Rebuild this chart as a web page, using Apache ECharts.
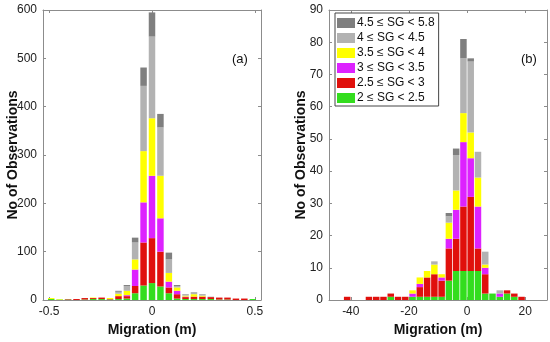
<!DOCTYPE html>
<html><head><meta charset="utf-8">
<script src="https://cdn.jsdelivr.net/npm/echarts@6/dist/echarts.min.js"></script>
<style>html,body{margin:0;padding:0;background:#fff}#c{width:550px;height:342px}</style>
</head><body><div id="c"></div>
<script>
// Panel (a): bin centers (m) and per-class counts
const binsA = [-0.49,-0.449,-0.408,-0.367,-0.327,-0.286,-0.245,-0.204,-0.163,-0.122,-0.082,-0.041,0,0.041,0.082,0.122,0.163,0.204,0.245,0.286,0.327,0.367,0.408,0.449,0.49];
const greenA   = [2,1,1,0,1,2,2,1,2,3,14,30,35,28,14,3,2,2,2,2,1,1,0,0,2];
const redA     = [0,0,1,2,3,2,3,1,6,5,15,89,93,72,12,9,4,5,5,4,4,4,3,3,0];
const magentaA = [0,0,0,0,0,0,0,0,0,2,34,83,129,69,12,7,1,0,0,0,0,0,0,0,0];
const yellowA  = [2,1,0,0,0,1,0,2,5,9,21,106,119,88,18,7,2,5,2,0,0,0,0,0,0];
const lgrayA   = [0,0,0,0,0,0,0,0,4,10,35,135,169,100,28,3,2,3,2,1,0,0,0,0,0];
const dgrayA   = [0,0,0,0,0,0,0,0,2,2,10,38,50,28,14,2,1,1,1,0,0,0,0,0,0];

// Panel (b): bin centers (m) and per-class counts
const binsB = [-41.25,-38.75,-36.25,-33.75,-31.25,-28.75,-26.25,-23.75,-21.25,-18.75,-16.25,-13.75,-11.25,-8.75,-6.25,-3.75,-1.25,1.25,3.75,6.25,8.75,11.25,13.75,16.25,18.75];
const greenB   = [0,0,0,0,0,0,1,0,0,1,1,1,1,1,6,9,9,9,9,2,2,1,2,1,0];
const redB     = [1,0,0,1,1,1,1,1,1,0,3,6,7,5,10,10,20,23,7,6,0,0,1,1,1];
const magentaB = [0,0,0,0,0,0,0,0,0,1,1,0,0,1,3,9,20,12,13,2,0,1,0,0,0];
const yellowB  = [0,0,0,0,0,0,0,0,0,1,2,2,3,1,5,6,9,8,9,1,0,0,0,0,0];
const lgrayB   = [0,0,0,0,0,0,0,0,0,0,0,0,1,0,2,11,17,22,8,4,0,1,0,0,0];
const dgrayB   = [0,0,0,0,0,0,0,0,0,0,0,0,0,0,1,2,6,1,0,0,0,0,0,0,0];

const classNames = ['2 \u2264 SG < 2.5','2.5 \u2264 SG < 3','3 \u2264 SG < 3.5','3.5 \u2264 SG < 4','4 \u2264 SG < 4.5','4.5 \u2264 SG < 5.8'];
const classColors = ['#33dd1e','#e0100c','#dd22ff','#ffff00','#b2b2b2','#7f7f7f'];
const ticksA = [-0.5, 0, 0.5];
const ticksB = [-40, -20, 0, 20];

const seriesA = [greenA, redA, magentaA, yellowA, lgrayA, dgrayA];
const seriesB = [greenB, redB, magentaB, yellowB, lgrayB, dgrayB];

const font = 'Liberation Sans, Arial, sans-serif';
const axisCol = '#8c8c8c';
const lblStyle = {color:'#222', fontSize:12, fontFamily:font};

function xAx(grid, min, max, ticks, pos, show){
  return {type:'value', gridIndex:grid, min:min, max:max, position:pos,
    axisLine:{show:true, onZero:false, lineStyle:{color:axisCol, width:1}},
    axisTick:{show:true, inside:true, length:3, customValues:ticks, lineStyle:{color:axisCol}},
    axisLabel:{show:show, customValues:ticks, margin:6, ...lblStyle},
    splitLine:{show:false},
    name: show ? 'Migration (m)' : '', nameLocation:'middle', nameGap:23, nameMoveOverlap:false,
    nameTextStyle:{fontSize:14, fontWeight:'bold', color:'#111', fontFamily:font}};
}
function yAx(grid, max, interval, pos, show, gap){
  return {type:'value', gridIndex:grid, min:0, max:max, interval:interval, position:pos,
    axisLine:{show:true, onZero:false, lineStyle:{color:axisCol, width:1}},
    axisTick:{show:true, inside:true, length:3, lineStyle:{color:axisCol}},
    axisLabel:{show:show, margin:6, ...lblStyle},
    splitLine:{show:false},
    name: show ? 'No of Observations' : '', nameLocation:'middle', nameGap:gap, nameRotate:90, nameMoveOverlap:false,
    nameTextStyle:{fontSize:14, fontWeight:'bold', color:'#111', fontFamily:font}};
}

const series = [];
// value listed first in each pair so the library stacks on the count dimension
seriesA.forEach((arr,i)=>{
  series.push({type:'bar', name:classNames[i], xAxisIndex:0, yAxisIndex:0, stack:'a',
    barWidth:6.5, itemStyle:{color:classColors[i]}, encode:{x:1, y:0},
    data: binsA.map((x,j)=>[arr[j], x])});
});
seriesB.forEach((arr,i)=>{
  series.push({type:'bar', name:classNames[i], xAxisIndex:2, yAxisIndex:2, stack:'b',
    barWidth:6.5, itemStyle:{color:classColors[i]}, encode:{x:1, y:0},
    data: binsB.map((x,j)=>[arr[j], x])});
});

const option = {
  animation:false,
  backgroundColor:'#fff',
  grid:[
    {left:43, top:10, width:218, height:290},
    {left:329, top:10, width:218, height:290}
  ],
  xAxis:[
    xAx(0, -0.53, 0.53, ticksA, 'bottom', true),
    xAx(0, -0.53, 0.53, ticksA, 'top', false),
    xAx(1, -47.5, 27.5, ticksB, 'bottom', true),
    xAx(1, -47.5, 27.5, ticksB, 'top', false)
  ],
  yAxis:[
    yAx(0, 600, 100, 'left', true, 23),
    yAx(0, 600, 100, 'right', false, 0),
    yAx(1, 90, 10, 'left', true, 21),
    yAx(1, 90, 10, 'right', false, 0)
  ],
  legend:{
    data: classNames.slice().reverse(),
    orient:'vertical', left:335, top:13,
    icon:'rect', itemWidth:18, itemHeight:10, itemGap:3,
    padding:[4,4,2,2],
    borderColor:'#444', borderWidth:1, backgroundColor:'#fff',
    selectedMode:false,
    textStyle:{fontSize:12, lineHeight:12, color:'#111', fontFamily:font, padding:[0,0,0,-3]}
  },
  graphic:[
    {type:'text', left:232, top:53, style:{text:'(a)', fontSize:13, fill:'#111', fontFamily:font}},
    {type:'text', left:521, top:53, style:{text:'(b)', fontSize:13, fill:'#111', fontFamily:font}}
  ],
  series: series
};
const chart = echarts.init(document.getElementById('c'), null, {renderer:'canvas'});
chart.setOption(option);
</script>
</body></html>
